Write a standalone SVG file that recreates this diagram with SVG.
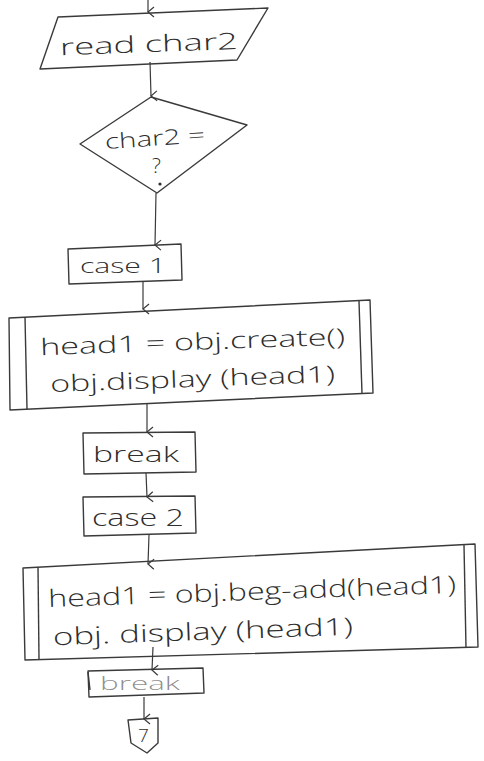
<svg xmlns="http://www.w3.org/2000/svg" width="484" height="761" viewBox="0 0 484 761">
  <defs>
    <marker id="arr" viewBox="0 0 12 12" refX="6" refY="11" markerWidth="12" markerHeight="12" markerUnits="userSpaceOnUse" orient="auto-start-reverse">
      <path d="M1,5 L6,11 L11,5" fill="none" stroke="#3a3a3a" stroke-width="1.2"/>
    </marker>
    <style>
      .shape { fill: none; stroke: #3a3a3a; stroke-width: 1.4; stroke-linejoin: round; }
      .edge { fill: none; stroke: #3a3a3a; stroke-width: 1.2; }
      .lbl { font-family: "Open Sans", "Lato", "DejaVu Sans", sans-serif; fill: #2e2e2e; font-weight: 300; }
    </style>
  </defs>
  <rect width="484" height="761" fill="#ffffff"/>

  <!-- connectors -->
  <g id="connectors">
    <path class="edge" d="M148,0 L148,12" marker-end="url(#arr)"/>
    <path class="edge" d="M150,62 L151,96" marker-end="url(#arr)"/>
    <path class="edge" d="M156,193 L155,245" marker-end="url(#arr)"/>
    <path class="edge" d="M143,282 L143,309" marker-end="url(#arr)"/>
    <path class="edge" d="M147,404 L147,432" marker-end="url(#arr)"/>
    <path class="edge" d="M146,473 L147,497" marker-end="url(#arr)"/>
    <path class="edge" d="M149,535 L148,564" marker-end="url(#arr)"/>
    <path class="edge" d="M153,647 L152,670" marker-end="url(#arr)"/>
    <path class="edge" d="M144,697 L144,719" marker-end="url(#arr)"/>
  </g>

  <!-- input: read char2 -->
  <g id="read_char2">
    <polygon class="shape" points="58,17 268,8 237,60 40,69"/>
    <text class="lbl" x="60" y="52" font-size="23" textLength="178" lengthAdjust="spacingAndGlyphs" transform="rotate(-2 150 45)">read char2</text>
  </g>

  <!-- decision: char2 = ? -->
  <g id="decision_char2">
    <polygon class="shape" points="151,97 247,125 157,193 80,144"/>
    <text class="lbl" x="105" y="146" font-size="21" textLength="100" lengthAdjust="spacingAndGlyphs" transform="rotate(-4 150 140)">char2 =</text>
    <text class="lbl" x="152" y="173" font-size="21">?</text>
    <circle cx="160" cy="184" r="1.6" fill="#2e2e2e"/>
  </g>

  <!-- case 1 -->
  <g id="case1">
    <polygon class="shape" points="68,249 181,244 182,280 69,284"/>
    <text class="lbl" x="80" y="273" font-size="21" textLength="86" lengthAdjust="spacingAndGlyphs">case 1</text>
  </g>

  <!-- predefined process: create + display -->
  <g id="process_create">
    <polygon class="shape" points="9,318 370,300 373,393 10,410"/>
    <line class="shape" x1="25" y1="317" x2="27" y2="409"/>
    <line class="shape" x1="359" y1="301" x2="362" y2="394"/>
    <text class="lbl" x="40" y="350" font-size="23" textLength="305" lengthAdjust="spacingAndGlyphs" transform="rotate(-2 190 340)">head1 = obj.create()</text>
    <text class="lbl" x="50" y="387" font-size="23" textLength="285" lengthAdjust="spacingAndGlyphs" transform="rotate(-2 190 378)">obj.display (head1)</text>
  </g>

  <!-- break -->
  <g id="break1">
    <polygon class="shape" points="83,433 195,432 196,472 84,474"/>
    <text class="lbl" x="93" y="462" font-size="22" textLength="86" lengthAdjust="spacingAndGlyphs">break</text>
  </g>

  <!-- case 2 -->
  <g id="case2">
    <polygon class="shape" points="83,497 195,496 196,533 84,536"/>
    <text class="lbl" x="92" y="526" font-size="24" textLength="92" lengthAdjust="spacingAndGlyphs">case 2</text>
  </g>

  <!-- predefined process: beg-add + display -->
  <g id="process_begadd">
    <polygon class="shape" points="23,568 475,544 478,647 25,660"/>
    <line class="shape" x1="38" y1="567" x2="39" y2="659"/>
    <line class="shape" x1="464" y1="545" x2="466" y2="648"/>
    <text class="lbl" x="48" y="600" font-size="24" textLength="408" lengthAdjust="spacingAndGlyphs" transform="rotate(-2 250 590)">head1 = obj.beg-add(head1)</text>
    <text class="lbl" x="53" y="640" font-size="24" textLength="300" lengthAdjust="spacingAndGlyphs" transform="rotate(-2 200 632)">obj. display (head1)</text>
  </g>

  <!-- break -->
  <g id="break2">
    <polygon class="shape" points="88,671 203,668 204,693 89,697"/>
    <line class="shape" x1="88" y1="672" x2="90" y2="690"/>
    <text class="lbl" x="100" y="690" font-size="19" fill-opacity="0.55" textLength="80" lengthAdjust="spacingAndGlyphs">break</text>
  </g>

  <!-- off-page connector 7 -->
  <g id="connector7">
    <polygon class="shape" points="128,720 158,718 158,743 147,753 131,743"/>
    <text class="lbl" x="138" y="742" font-size="19">7</text>
  </g>
</svg>
